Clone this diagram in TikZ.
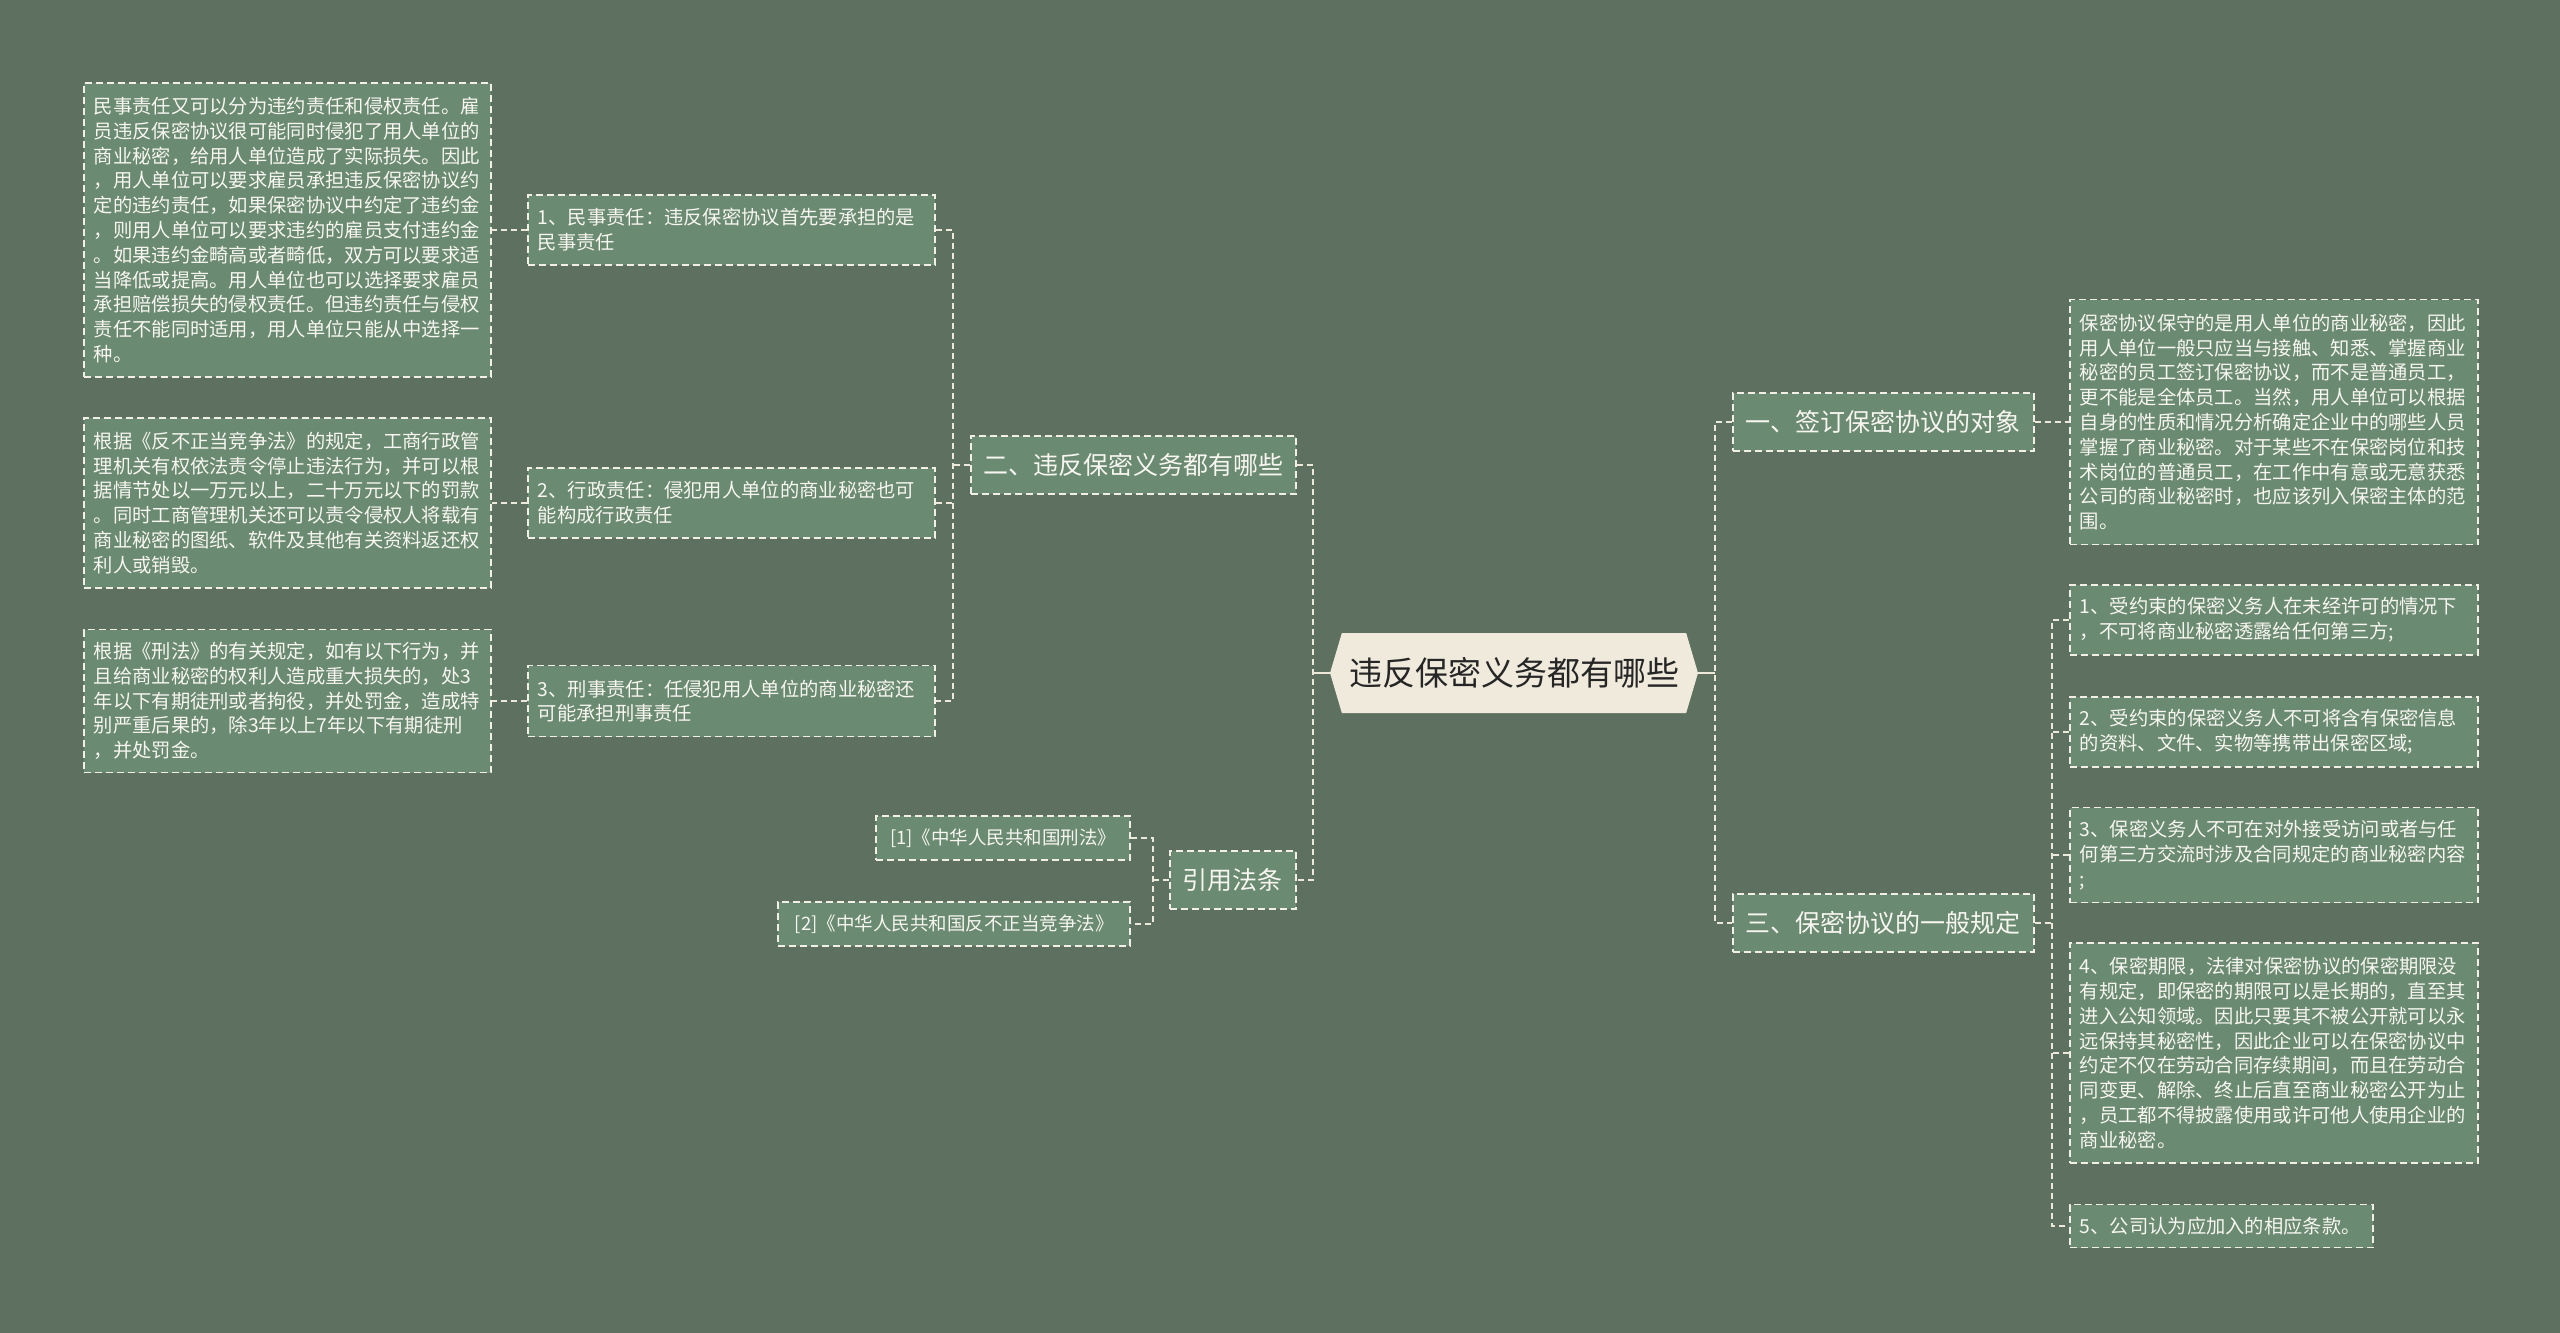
\documentclass[tikz,border=0pt]{standalone}
\usepackage{fontspec}
\newfontfamily\cjk{Noto Sans CJK SC}
\usetikzlibrary{shapes.symbols}
\definecolor{bg}{HTML}{5E7160}
\definecolor{boxfill}{HTML}{6A8A71}
\definecolor{boxline}{HTML}{F2F0E6}
\definecolor{linec}{HTML}{ECE8DA}
\definecolor{txt}{HTML}{F7F6F0}
\definecolor{cfill}{HTML}{EFEADC}
\definecolor{ctext}{HTML}{262626}
\begin{document}
\begin{tikzpicture}[x=1pt,y=-1pt,
  leaf/.style={draw=boxline, line width=1.6pt, dash pattern=on 7pt off 4pt,
    fill=boxfill, text=txt, anchor=west, inner xsep=10pt, inner ysep=0pt,
    align=left, text width=#1, font=\cjk\fontsize{19.3}{24.8}\selectfont},
  leaf/.default=387pt,
  branch/.style={draw=boxline, line width=1.6pt, dash pattern=on 7pt off 4pt,
    fill=boxfill, text=txt, anchor=west, inner sep=0pt, align=center,
    minimum height=58pt, font=\cjk\fontsize{25}{30}\selectfont},
  refbox/.style={draw=boxline, line width=1.6pt, dash pattern=on 7pt off 4pt,
    fill=boxfill, text=txt, anchor=east, inner sep=0pt, align=center,
    minimum height=44pt, font=\cjk\fontsize{18.5}{22}\selectfont},
  ctr/.style={shape=signal, signal to=west and east, signal pointer angle=147,
    fill=cfill, text=ctext, inner sep=0pt, minimum width=368pt, minimum height=80pt,
    font=\cjk\fontsize{33}{40}\selectfont},
  conn/.style={draw=linec, line width=2pt, dash pattern=on 6pt off 4pt},
  solidc/.style={draw=linec, line width=2pt}
]
\fill[bg] (0,0) rectangle (2560,1333);
\useasboundingbox (0,0) rectangle (2560,1333);

% center
\node[ctr] (c) at (1514,673) {违反保密义务都有哪些};

% left branch
\node[branch, minimum width=325pt] (b2) at (970,465) {二、违反保密义务都有哪些};
\node[leaf, minimum height=70pt] (m1) at (527,230) {1、民事责任：违反保密协议首先要承担的是\\民事责任};
\node[leaf, minimum height=70pt] (m2) at (527,503) {2、行政责任：侵犯用人单位的商业秘密也可\\能构成行政责任};
\node[leaf, minimum height=71pt] (m3) at (527,701) {3、刑事责任：任侵犯用人单位的商业秘密还\\可能承担刑事责任};
\node[leaf, minimum height=294pt] (l1) at (83,230) {民事责任又可以分为违约责任和侵权责任。雇\\员违反保密协议很可能同时侵犯了用人单位的\\商业秘密，给用人单位造成了实际损失。因此\\，用人单位可以要求雇员承担违反保密协议约\\定的违约责任，如果保密协议中约定了违约金\\，则用人单位可以要求违约的雇员支付违约金\\。如果违约金畸高或者畸低，双方可以要求适\\当降低或提高。用人单位也可以选择要求雇员\\承担赔偿损失的侵权责任。但违约责任与侵权\\责任不能同时适用，用人单位只能从中选择一\\种。};
\node[leaf, minimum height=170pt] (l2) at (83,503) {根据《反不正当竞争法》的规定，工商行政管\\理机关有权依法责令停止违法行为，并可以根\\据情节处以一万元以上，二十万元以下的罚款\\。同时工商管理机关还可以责令侵权人将载有\\商业秘密的图纸、软件及其他有关资料返还权\\利人或销毁。};
\node[leaf, minimum height=143pt] (l3) at (83,701) {根据《刑法》的有关规定，如有以下行为，并\\且给商业秘密的权利人造成重大损失的，处3\\年以下有期徒刑或者拘役，并处罚金，造成特\\别严重后果的，除3年以上7年以下有期徒刑\\，并处罚金。};

% references
\node[branch, minimum width=126pt] (bref) at (1169,880) {引用法条};
\node[refbox, minimum width=254pt] (ref1) at (1131,838) {[1]《中华人民共和国刑法》};
\node[refbox, minimum width=352pt] (ref2) at (1131,924) {[2]《中华人民共和国反不正当竞争法》};

% right branches
\node[branch, minimum width=301pt] (b1) at (1732,422) {一、签订保密协议的对象};
\node[branch, minimum width=301pt] (b3) at (1732,923) {三、保密协议的一般规定};
\node[leaf=388pt, minimum height=245pt] (q0) at (2069,422) {保密协议保守的是用人单位的商业秘密，因此\\用人单位一般只应当与接触、知悉、掌握商业\\秘密的员工签订保密协议，而不是普通员工，\\更不能是全体员工。当然，用人单位可以根据\\自身的性质和情况分析确定企业中的哪些人员\\掌握了商业秘密。对于某些不在保密岗位和技\\术岗位的普通员工，在工作中有意或无意获悉\\公司的商业秘密时，也应该列入保密主体的范\\围。};
\node[leaf=388pt, minimum height=70pt] (q1) at (2069,620) {1、受约束的保密义务人在未经许可的情况下\\，不可将商业秘密透露给任何第三方;};
\node[leaf=388pt, minimum height=70pt] (q2) at (2069,732) {2、受约束的保密义务人不可将含有保密信息\\的资料、文件、实物等携带出保密区域;};
\node[leaf=388pt, minimum height=95pt] (q3) at (2069,855) {3、保密义务人不可在对外接受访问或者与任\\何第三方交流时涉及合同规定的商业秘密内容\\;};
\node[leaf=388pt, minimum height=220pt] (q4) at (2069,1053) {4、保密期限，法律对保密协议的保密期限没\\有规定，即保密的期限可以是长期的，直至其\\进入公知领域。因此只要其不被公开就可以永\\远保持其秘密性，因此企业可以在保密协议中\\约定不仅在劳动合同存续期间，而且在劳动合\\同变更、解除、终止后直至商业秘密公开为止\\，员工都不得披露使用或许可他人使用企业的\\商业秘密。};
\node[leaf=283pt, minimum height=43pt] (q5) at (2069,1226) {5、公司认为应加入的相应条款。};

% junctions
\coordinate (jl) at (1313,673);
\coordinate (jr) at (1715,673);
\coordinate (j2) at (953,465);
\coordinate (jref) at (1153,880);
\coordinate (j3) at (2052,923);

% connectors
\draw[solidc] (c.west) -- (jl);
\draw[solidc] (c.east) -- (jr);
\draw[conn] (b2.east) -- (b2.east -| jl) -- (bref.east -| jl) -- (bref.east);
\draw[conn] (b1.west) -- (b1.west -| jr) -- (b3.west -| jr) -- (b3.west);

\draw[conn] (b2.west) -- (j2);
\draw[conn] (m1.east) -- (m1.east -| j2) -- (m3.east -| j2) -- (m3.east);
\draw[conn] (m2.east) -- (m2.east -| j2);
\draw[conn] (m1.west) -- (l1.east);
\draw[conn] (m2.west) -- (l2.east);
\draw[conn] (m3.west) -- (l3.east);

\draw[conn] (bref.west) -- (jref);
\draw[conn] (ref1.east) -- (ref1.east -| jref) -- (ref2.east -| jref) -- (ref2.east);

\draw[conn] (b1.east) -- (q0.west);
\draw[conn] (b3.east) -- (j3);
\draw[conn] (q1.west) -- (q1.west -| j3) -- (q5.west -| j3) -- (q5.west);
\draw[conn] (q2.west) -- (q2.west -| j3);
\draw[conn] (q3.west) -- (q3.west -| j3);
\draw[conn] (q4.west) -- (q4.west -| j3);
\end{tikzpicture}
\end{document}
